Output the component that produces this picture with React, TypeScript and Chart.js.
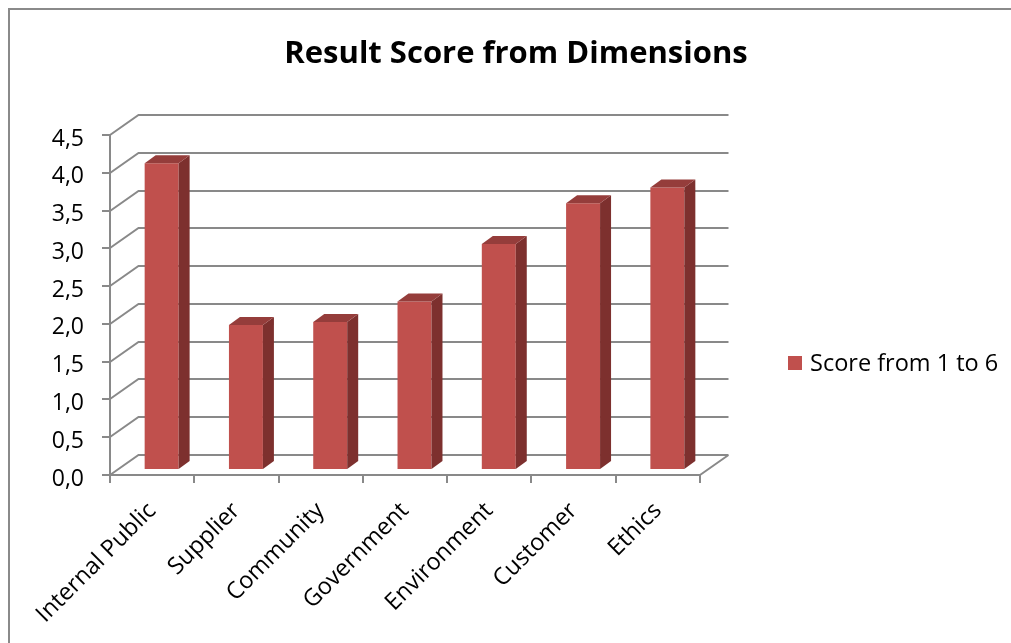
import React, { useEffect, useRef } from 'react';
import { Chart, registerables } from 'chart.js';

Chart.register(...registerables);

// ---- data ----
const categories = ['Internal Public', 'Supplier', 'Community', 'Government', 'Environment', 'Customer', 'Ethics'];
const scores = [4.06, 1.92, 1.96, 2.23, 2.99, 3.53, 3.74];
const seriesLabel = 'Score from 1 to 6';
const titleText = 'Result Score from Dimensions';
const yMin = 0;
const yMax = 4.5;
const yStep = 0.5;

// ---- style ----
const W = 1011;
const H = 643;
const FONT = "'Open Sans', sans-serif";
const GRID = '#898989';
const BAR = '#C0504D';
const BAR_SIDE = '#7D302E';
const BAR_TOP = '#953D3B';
const DEPTH_X = 28.5;
const DEPTH_Y = -20;
const BAR_DX = 9.5;
const BAR_DY = -5;
const SIDE_X = 11;
const SIDE_Y = -8;

const threeD = {
  id: 'threeD',
  beforeDraw(chart: any) {
    const ctx = chart.ctx;
    ctx.save();
    ctx.strokeStyle = '#8a8a8a';
    ctx.lineWidth = 2;
    ctx.strokeRect(9, 9, W + 40, H + 40);
    ctx.restore();
  },
  beforeDatasetsDraw(chart: any) {
    const { ctx, chartArea } = chart;
    const y = chart.scales.y;
    ctx.save();
    ctx.strokeStyle = GRID;
    ctx.lineWidth = 2;
    ctx.beginPath();
    for (const t of y.ticks) {
      const py = Math.round(y.getPixelForValue(t.value));
      ctx.moveTo(chartArea.left, py);
      ctx.lineTo(chartArea.left + DEPTH_X, py + DEPTH_Y);
      ctx.lineTo(chartArea.right + DEPTH_X, py + DEPTH_Y);
    }
    const p0 = Math.round(y.getPixelForValue(yMin));
    ctx.moveTo(chartArea.right, p0);
    ctx.lineTo(chartArea.right + DEPTH_X, p0 + DEPTH_Y);
    ctx.stroke();
    ctx.restore();
    ctx.save();
    ctx.translate(BAR_DX, BAR_DY);
  },
  afterDatasetsDraw(chart: any) {
    const ctx = chart.ctx;
    ctx.restore();
    const meta = chart.getDatasetMeta(0);
    ctx.save();
    ctx.translate(BAR_DX, BAR_DY);
    for (const el of meta.data) {
      const { x, y, base, width } = el.getProps(['x', 'y', 'base', 'width'], true);
      const l = x - width / 2;
      const r = x + width / 2;
      // side face
      ctx.fillStyle = BAR_SIDE;
      ctx.beginPath();
      ctx.moveTo(r, y);
      ctx.lineTo(r + SIDE_X, y + SIDE_Y);
      ctx.lineTo(r + SIDE_X, base + SIDE_Y);
      ctx.lineTo(r, base);
      ctx.closePath();
      ctx.fill();
      // top face
      ctx.fillStyle = BAR_TOP;
      ctx.beginPath();
      ctx.moveTo(l, y);
      ctx.lineTo(l + SIDE_X, y + SIDE_Y);
      ctx.lineTo(r + SIDE_X, y + SIDE_Y);
      ctx.lineTo(r, y);
      ctx.closePath();
      ctx.fill();
    }
    ctx.restore();
  },
  afterDraw(chart: any) {
    const ctx = chart.ctx;
    const ds = chart.data.datasets[0];
    ctx.save();
    // title
    ctx.fillStyle = '#000';
    ctx.font = `bold 31px ${FONT}`;
    ctx.textAlign = 'center';
    ctx.textBaseline = 'alphabetic';
    ctx.fillText(titleText, 516, 62.5);
    // legend
    ctx.fillStyle = ds.backgroundColor;
    ctx.fillRect(788, 356, 14, 14);
    ctx.fillStyle = '#000';
    ctx.font = `23.5px ${FONT}`;
    ctx.textBaseline = 'middle';
    ctx.textAlign = 'left';
    ctx.fillText(ds.label, 810, 364);
    ctx.restore();
  },
};

export default function App() {
  const ref = useRef<HTMLCanvasElement | null>(null);
  useEffect(() => {
    if (!ref.current) return;
    const chart = new Chart(ref.current, {
      type: 'bar',
      data: {
        labels: categories,
        datasets: [
          {
            label: seriesLabel,
            data: scores,
            backgroundColor: BAR,
            borderWidth: 0,
            categoryPercentage: 1,
            barPercentage: 0.403,
          },
        ],
      },
      options: {
        responsive: false,
        animation: false,
        devicePixelRatio: 1,
        layout: { padding: { left: 0, right: W - 700, top: 135, bottom: 0 } },
        plugins: {
          legend: { display: false },
          tooltip: { enabled: false },
          title: { display: false },
        },
        scales: {
          x: {
            grid: { display: true, drawOnChartArea: false, drawTicks: true, tickLength: 8, color: GRID, lineWidth: 2, offset: true },
            border: { display: true, color: GRID, width: 2 },
            ticks: {
              color: '#000',
              font: { family: FONT, size: 23.5 },
              maxRotation: 45,
              minRotation: 45,
              autoSkip: false,
              padding: 14,
              labelOffset: 0,
            },
            afterFit: (s: any) => {
              s.height = 168;
            },
          },
          y: {
            min: yMin,
            max: yMax,
            grid: { display: true, drawOnChartArea: false, drawTicks: true, tickLength: 8, color: GRID, lineWidth: 2 },
            border: { display: true, color: GRID, width: 2 },
            ticks: {
              stepSize: yStep,
              color: '#000',
              font: { family: FONT, size: 23 },
              padding: 18,
              labelOffset: 4,
              callback: (v: any) => Number(v).toFixed(1).replace('.', ','),
            },
            afterFit: (s: any) => {
              s.width = 110;
            },
          },
        },
      },
      plugins: [threeD],
    });
    return () => chart.destroy();
  }, []);
  return (
    <div style={{ position: 'absolute', left: 0, top: 0, width: W, height: H, background: '#fff' }}>
      <canvas ref={ref} width={W} height={H} style={{ display: 'block' }} />
    </div>
  );
}
